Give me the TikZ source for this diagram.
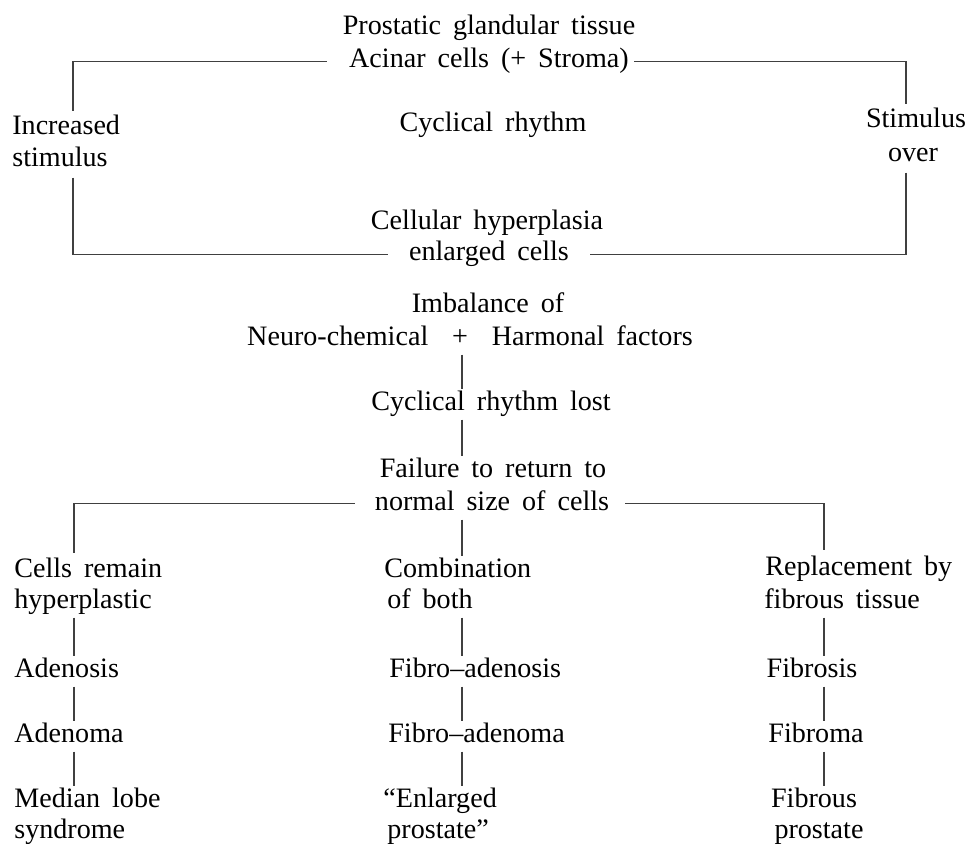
\documentclass[tikz,border=0pt]{standalone}
\usepackage{fontspec}
\setmainfont{Liberation Serif}[WordSpace=1.7]
\begin{document}
\begin{tikzpicture}[x=0.02cm,y=-0.02cm]
    \tikzset{
        term/.style={inner sep=0pt, anchor=base, text height=10.5pt, text depth=3pt,
            font=\fontsize{16}{18}\selectfont},
        lterm/.style={term, anchor=base west},
        link/.style={draw=black!75, line width=0.6pt},
        stem/.style={link, shorten <=0.8mm, shorten >=0.4mm},
    }
    \useasboundingbox (0,0) rectangle (966,844);

    \coordinate (loopL) at (73,0);
    \coordinate (loopR) at (906,0);
    \coordinate (spine) at (462,0);
    \coordinate (colL) at (74,0);
    \coordinate (colR) at (824,0);

    \node[term] (tissue) at (489,35) {Prostatic glandular tissue};
    \node[term] (acinar) at (489,68) {Acinar cells (+ Stroma)};
    \node[term] (rhythm) at (493,132) {Cyclical rhythm};
    \node[lterm] (incA) at (12,135) {Increased};
    \node[lterm] (incB) at (12,167) {stimulus};
    \node[term] (stimA) at (916,128) {Stimulus};
    \node[term] (stimB) at (913,162) {over};
    \node[term] (cellular) at (487,230) {Cellular hyperplasia};
    \node[term] (enlarged) at (489,261) {enlarged cells};

    \node[term] (imbalance) at (488,313) {Imbalance of};
    \node[term] (neuro) at (470,345) {Neuro-chemical\ \ +\ \ Harmonal factors};
    \node[term] (lost) at (491,410) {Cyclical rhythm lost};
    \node[term] (failure) at (493,477) {Failure to return to};
    \node[term] (normal) at (492,510) {normal size of cells};

    \node[lterm] (cellsA) at (14,577) {Cells remain};
    \node[lterm] (cellsB) at (14,608) {hyperplastic};
    \node[lterm] (adenosis) at (14,677) {Adenosis};
    \node[lterm] (adenoma) at (14,742) {Adenoma};
    \node[lterm] (medianA) at (14,807) {Median lobe};
    \node[lterm] (medianB) at (14,838) {syndrome};

    \node[lterm] (combA) at (384,577) {Combination};
    \node[lterm] (combB) at (387,608) {of both};
    \node[lterm] (fadenosis) at (389,677) {Fibro--adenosis};
    \node[lterm] (fadenoma) at (388,742) {Fibro--adenoma};
    \node[lterm] (enlA) at (383,807) {“Enlarged};
    \node[lterm] (enlB) at (387,838) {prostate”};

    \node[lterm] (replA) at (765,575) {Replacement by};
    \node[lterm] (replB) at (764,608) {fibrous tissue};
    \node[term] (fibrosis) at (812,677) {Fibrosis};
    \node[term] (fibroma) at (816,742) {Fibroma};
    \node[term] (fibrA) at (814,807) {Fibrous};
    \node[term] (fibrB) at (819,838) {prostate};

    \draw[link, shorten <=4.4mm, shorten >=1mm]
        (acinar.west) -- (acinar.west -| loopL) -- (incA.north -| loopL);
    \draw[link, shorten <=1mm, shorten >=4.2mm]
        (incB.south -| loopL) -- (enlarged.west -| loopL) -- (enlarged.west);
    \draw[link, shorten <=1mm, shorten >=1mm]
        (acinar.east) -- (acinar.east -| loopR) -- (stimA.north -| loopR);
    \draw[link, shorten <=1mm, shorten >=4.2mm]
        (stimB.south -| loopR) -- (enlarged.east -| loopR) -- (enlarged.east);

    \draw[stem] (neuro.south -| spine) -- (lost.north -| spine);
    \draw[stem] (lost.south -| spine) -- (failure.north -| spine);

    \draw[link, shorten <=4mm, shorten >=1mm]
        (normal.west) -- (normal.west -| colL) -- (cellsA.north -| colL);
    \draw[stem] (normal.south -| spine) -- (combA.north -| spine);
    \draw[link, shorten <=3.2mm, shorten >=1.2mm]
        (normal.east) -- (normal.east -| colR) -- (replA.north -| colR);

    \draw[stem] (cellsB.south -| colL) -- (adenosis.north -| colL);
    \draw[stem] (adenosis.south -| colL) -- (adenoma.north -| colL);
    \draw[stem] (adenoma.south -| colL) -- (medianA.north -| colL);

    \draw[stem] (combB.south -| spine) -- (fadenosis.north -| spine);
    \draw[stem] (fadenosis.south -| spine) -- (fadenoma.north -| spine);
    \draw[stem] (fadenoma.south -| spine) -- (enlA.north -| spine);

    \draw[stem] (replB.south -| colR) -- (fibrosis.north -| colR);
    \draw[stem] (fibrosis.south -| colR) -- (fibroma.north -| colR);
    \draw[stem] (fibroma.south -| colR) -- (fibrA.north -| colR);
\end{tikzpicture}
\end{document}
